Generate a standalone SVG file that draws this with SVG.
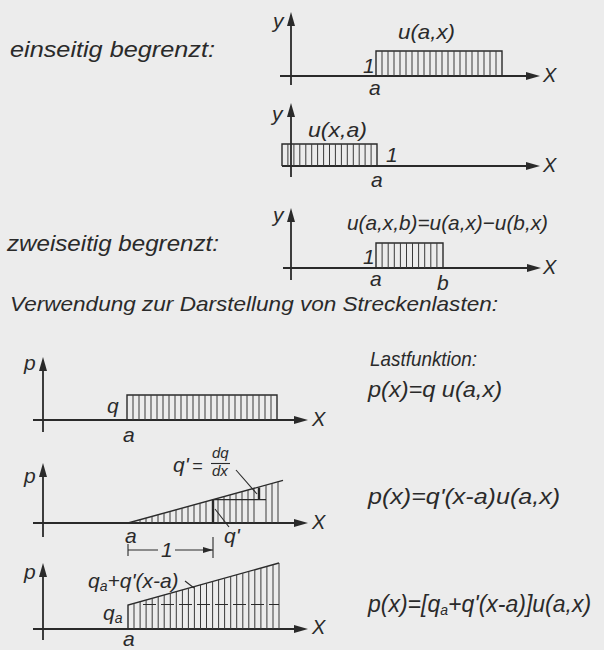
<svg xmlns="http://www.w3.org/2000/svg" width="604" height="650" viewBox="0 0 604 650">
<style>
.t{font-family:"Liberation Sans","DejaVu Sans",sans-serif;font-style:italic;fill:#2a2a2a;font-size:21px}
.s{font-size:14px}
.f{font-size:15px}
.ax{stroke:#2a2a2a;stroke-width:1.8;fill:none}
.bx{stroke:#2a2a2a;stroke-width:1.4;fill:none}
.h{stroke:#3a3a3a;stroke-width:1;fill:none}
.th{stroke:#2a2a2a;stroke-width:2.4;fill:none}
.ln{stroke:#2a2a2a;stroke-width:1.1;fill:none}
</style>
<defs>
<marker id="ah" markerUnits="userSpaceOnUse" markerWidth="14" markerHeight="8" refX="9" refY="4" orient="auto"><path d="M0,0 L14,4 L0,8 z" fill="#2a2a2a"/></marker>
<marker id="dh" markerUnits="userSpaceOnUse" markerWidth="10" markerHeight="6" refX="10" refY="3" orient="auto"><path d="M0,0 L10,3 L0,6 z" fill="#2a2a2a"/></marker>
</defs>
<rect width="604" height="650" fill="#ececec"/>

<text class="t" x="10" y="57" style="font-size:22px" textLength="205" lengthAdjust="spacingAndGlyphs">einseitig begrenzt:</text>
<text class="t" x="7" y="251" style="font-size:22px" textLength="212" lengthAdjust="spacingAndGlyphs">zweiseitig begrenzt:</text>
<text class="t" x="10" y="311" textLength="488" lengthAdjust="spacingAndGlyphs">Verwendung zur Darstellung von Streckenlasten:</text>
<text class="t" x="370" y="366" textLength="107" lengthAdjust="spacingAndGlyphs">Lastfunktion:</text>

<g id="plot1">
<line class="ax" x1="291" y1="85" x2="291" y2="17" marker-end="url(#ah)"/>
<line class="ax" x1="280" y1="76" x2="535" y2="76" marker-end="url(#ah)"/>
<path class="bx" d="M376,76V51H502V76"/>
<path class="h" d="M382,76V51M388,76V51M394,76V51M400,76V51M406,76V51M412,76V51M418,76V51M424,76V51M430,76V51M436,76V51M442,76V51M448,76V51M454,76V51M460,76V51M466,76V51M472,76V51M478,76V51M484,76V51M490,76V51M496,76V51"/>
<text class="t" x="273" y="28">y</text>
<text class="t" x="543" y="82" style="font-size:20px">X</text>
<text class="t" x="363" y="73">1</text>
<text class="t" x="369" y="95">a</text>
<text class="t" x="398" y="39" textLength="57" lengthAdjust="spacingAndGlyphs">u(a,x)</text>
</g>

<g id="plot2">
<line class="ax" x1="291" y1="177" x2="291" y2="108" marker-end="url(#ah)"/>
<line class="ax" x1="282" y1="166" x2="535" y2="166" marker-end="url(#ah)"/>
<path class="bx" d="M282,166V144H377V166"/>
<path class="h" d="M287.9,166V144M293.9,166V144M299.8,166V144M305.8,166V144M311.7,166V144M317.6,166V144M323.6,166V144M329.5,166V144M335.4,166V144M341.4,166V144M347.3,166V144M353.3,166V144M359.2,166V144M365.1,166V144M371.1,166V144"/>
<text class="t" x="272" y="121">y</text>
<text class="t" x="543" y="172" style="font-size:20px">X</text>
<text class="t" x="386" y="162">1</text>
<text class="t" x="371" y="187">a</text>
<text class="t" x="308" y="137" textLength="59" lengthAdjust="spacingAndGlyphs">u(x,a)</text>
</g>

<g id="plot3">
<line class="ax" x1="291" y1="280" x2="291" y2="213" marker-end="url(#ah)"/>
<line class="ax" x1="283" y1="268" x2="536" y2="268" marker-end="url(#ah)"/>
<path class="bx" d="M376,268V243H443V268"/>
<path class="h" d="M382.1,268V243M388.2,268V243M394.3,268V243M400.4,268V243M406.5,268V243M412.5,268V243M418.6,268V243M424.7,268V243M430.8,268V243M436.9,268V243"/>
<text class="t" x="273" y="222">y</text>
<text class="t" x="543" y="274" style="font-size:20px">X</text>
<text class="t" x="363" y="264">1</text>
<text class="t" x="370" y="286">a</text>
<text class="t" x="437" y="290">b</text>
<text class="t" x="347" y="230" textLength="201" lengthAdjust="spacingAndGlyphs">u(a,x,b)=u(a,x)−u(b,x)</text>
</g>

<g id="plot4">
<line class="ax" x1="43" y1="432" x2="43" y2="362" marker-end="url(#ah)"/>
<line class="ax" x1="33" y1="420" x2="303" y2="420" marker-end="url(#ah)"/>
<path class="bx" d="M127,420V395H277V420"/>
<path class="h" d="M133,420V395M139,420V395M145,420V395M151,420V395M157,420V395M163,420V395M169,420V395M175,420V395M181,420V395M187,420V395M193,420V395M199,420V395M205,420V395M211,420V395M217,420V395M223,420V395M229,420V395M235,420V395M241,420V395M247,420V395M253,420V395M259,420V395M265,420V395M271,420V395"/>
<text class="t" x="24" y="370">p</text>
<text class="t" x="312" y="426" style="font-size:20px">X</text>
<text class="t" x="107" y="413">q</text>
<text class="t" x="123" y="442">a</text>
<text class="t" x="368" y="397" style="font-size:22px" textLength="134" lengthAdjust="spacingAndGlyphs">p(x)=q u(a,x)</text>
</g>

<g id="plot5">
<line class="ax" x1="43" y1="537" x2="43" y2="468" marker-end="url(#ah)"/>
<line class="ax" x1="33" y1="523" x2="303" y2="523" marker-end="url(#ah)"/>
<path class="bx" d="M128,523L283,480.4"/>
<path class="h" d="M134,523V521.4M140,523V519.7M146,523V518.1M152,523V516.4M158,523V514.8M164,523V513.1M170,523V511.5M176,523V509.8M182,523V508.2M188,523V506.5M194,523V504.9M200,523V503.2M206,523V501.6M218,523V498.3M224,523V496.6M230,523V495M236,523V493.3M242,523V491.7M248,523V490M254,523V488.4M266,523V485.1M272,523V483.4M278,523V481.8"/>
<path class="th" d="M213,523V499.6M259,499.6V487.4"/>
<path class="ln" d="M213,499.6H266"/>
<text class="t" x="24" y="483">p</text>
<text class="t" x="312" y="529" style="font-size:20px">X</text>
<text class="t" x="125" y="543">a</text>
<text class="t" x="173" y="472">q'</text>
<text class="t" x="192" y="472" style="font-size:18px">=</text>
<text class="t f" x="212" y="458">dq</text>
<path class="ln" d="M211,463.5H230"/>
<text class="t f" x="212" y="476">dx</text>
<text class="t" x="224" y="543">q'</text>
<text class="t" x="161" y="557">1</text>
<text class="t" x="368" y="504" style="font-size:22px" textLength="192" lengthAdjust="spacingAndGlyphs">p(x)=q'(x-a)u(a,x)</text>
</g>

<g id="plot6">
<line class="ax" x1="43" y1="640" x2="43" y2="568" marker-end="url(#ah)"/>
<line class="ax" x1="33" y1="629" x2="303" y2="629" marker-end="url(#ah)"/>
<path class="bx" d="M128,629V605L279,563"/>
<path class="h" d="M134,629V603.3M140.1,629V601.6M146.1,629V600M152.2,629V598.3M158.2,629V596.6M164.2,629V594.9M170.3,629V593.3M176.3,629V591.6M182.4,629V589.9M188.4,629V588.2M194.4,629V586.5M200.5,629V584.9M206.5,629V583.2M212.6,629V581.5M218.6,629V579.8M224.6,629V578.1M230.7,629V576.5M236.7,629V574.8M242.8,629V573.1M248.8,629V571.4M254.8,629V569.7M260.9,629V568.1M266.9,629V566.4M273,629V564.7M279,629V563"/>
<path class="ln" d="M143,604.5H279" stroke-dasharray="13 5"/>
<text class="t" x="24" y="579">p</text>
<text class="t" x="312" y="634" style="font-size:20px">X</text>
<text class="t" x="123" y="646">a</text>
<text class="t" x="103" y="620">q<tspan class="s" dy="3">a</tspan></text>
<text class="t" x="88" y="588">q<tspan class="s" dy="3">a</tspan><tspan dy="-3">+q'(x-a)</tspan></text>
<text class="t" x="368" y="612" style="font-size:23px">p(x)=[q<tspan class="s" dy="3">a</tspan><tspan dy="-3">+q'(x-a)]u(a,x)</tspan></text>
</g>

<g id="connectors">
<path class="ln" d="M236,470L257,494"/>
<path class="ln" d="M215,509L229,527"/>
<path class="ln" d="M185,581L194,588"/>
<path class="ln" d="M128,544V556M213,537V558"/>
<path class="ln" d="M158,550H128M175,550H213" marker-end="url(#dh)"/>
</g>
</svg>
